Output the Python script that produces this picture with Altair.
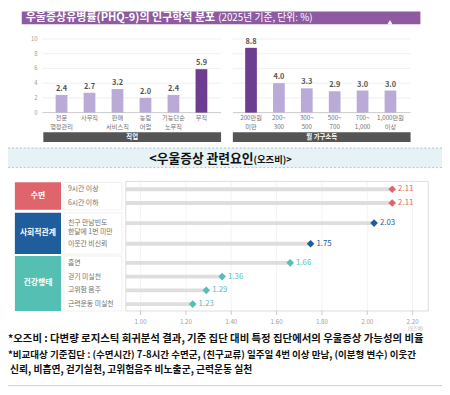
import altair as alt
import pandas as pd

FONT = "Noto Sans CJK KR"

# ---------------- data ----------------
jobs = ["전문\n행정관리", "사무직", "판매\n서비스직", "농림\n어업", "기능단순\n노무직", "무직"]
job_vals = [2.4, 2.7, 3.2, 2.0, 2.4, 5.9]
job_hi = [False, False, False, False, False, True]

incomes = ["200만원\n미만", "200~\n300", "300~\n500", "500~\n700", "700~\n1,000", "1,000만원\n이상"]
inc_vals = [8.8, 4.0, 3.3, 2.9, 3.0, 3.0]
inc_hi = [True, False, False, False, False, False]

y_ticks = [0, 2, 4, 6, 8, 10]

rows = ["9시간 이상", "6시간 이하", "친구 만남빈도\n한달에 1번 미만", "이웃간 비신뢰",
        "흡연", "걷기 미실천", "고위험 음주", "근력운동 미실천"]
odds = [2.11, 2.11, 2.03, 1.75, 1.66, 1.36, 1.29, 1.23]
row_group = ["수면", "수면", "사회적관계", "사회적관계", "건강행태", "건강행태", "건강행태", "건강행태"]
group_names = ["수면", "사회적관계", "건강행태"]
group_colors = ["#e0646c", "#1f5d9c", "#55bfb3"]
x_ticks = [1.0, 1.2, 1.4, 1.6, 1.8, 2.0, 2.2]

title_main = "우울증상유병률(PHQ-9)의 인구학적 분포"
title_sub = "(2025년 기준, 단위: %)"
mid_title_a = "<우울증상 관련요인"
mid_title_b = "(오즈비)>"
notes = [
    "*오즈비 : 다변량 로지스틱 회귀분석 결과, 기준 집단 대비 특정 집단에서의 우울증상 가능성의 비율",
    "*비교대상 기준집단 : (수면시간) 7-8시간 수면군, (친구교류) 일주일 4번 이상 만남, (이분형 변수) 이웃간",
    " 신뢰, 비흡연, 걷기실천, 고위험음주 비노출군, 근력운동 실천",
]

# ---------------- helpers ----------------
one = pd.DataFrame({"k": [0]})
layers = []


def rect(x, x2, y, y2, **kw):
    return alt.Chart(one).mark_rect(**kw).encode(
        x=alt.value(x), x2=alt.value(x2), y=alt.value(y), y2=alt.value(y2))


def hrule(x, x2, y, **kw):
    return alt.Chart(one).mark_rule(**kw).encode(
        x=alt.value(x), x2=alt.value(x2), y=alt.value(y))


def label(t, x, y, **kw):
    kw.setdefault("font", FONT)
    return alt.Chart(pd.DataFrame({"t": [t]})).mark_text(**kw).encode(
        x=alt.value(x), y=alt.value(y), text="t:N")


# ---------------- top section ----------------
layers.append(rect(14, 420, 0, 13, color="#8e5aa0"))
layers.append(alt.Chart(one).mark_point(shape="triangle-up", filled=True, color="white",
                                        opacity=1, size=28).encode(x=alt.value(389), y=alt.value(11)))
layers.append(label(title_main, 211, 7, align="right", baseline="middle", fontSize=11.2,
                    fontWeight="bold", color="white"))
layers.append(label(title_sub, 214, 7, align="left", baseline="middle", fontSize=10,
                    color="white"))

ys_top = alt.Scale(domain=[0, 10], range=[103, 28])
tick_df = pd.DataFrame({"v": y_ticks})
for (x0, x1) in [(35, 217), (229, 410)]:
    layers.append(alt.Chart(tick_df).mark_rule(strokeWidth=0.8).encode(
        y=alt.Y("v:Q", scale=ys_top, axis=None),
        x=alt.value(x0), x2=alt.value(x1),
        color=alt.condition("datum.v == 0", alt.value("#bdbdbd"), alt.value("#ececec"))))
layers.append(alt.Chart(tick_df).mark_text(font=FONT, fontSize=6, color="#a0a0a0",
                                            align="right", baseline="middle").encode(
    y=alt.Y("v:Q", scale=ys_top, axis=None), x=alt.value(30), text="v:Q"))

for cats, vals, hi, rng in [(jobs, job_vals, job_hi, [40.25, 211.25]),
                            (incomes, inc_vals, inc_hi, [233.3, 403.7])]:
    df = pd.DataFrame({"c": cats, "v": vals, "h": hi})
    xs = alt.Scale(domain=cats, range=rng, paddingInner=0.58, paddingOuter=0.29)
    layers.append(alt.Chart(df).mark_bar().encode(
        x=alt.X("c:N", scale=xs, axis=None, sort=None),
        y=alt.Y("v:Q", scale=ys_top, axis=None),
        color=alt.Color("h:N", scale=alt.Scale(domain=[False, True],
                                               range=["#b9aad8", "#6d3d8f"]), legend=None)))
    layers.append(alt.Chart(df).mark_text(font=FONT, fontSize=7.5, fontWeight="bold",
                                          color="#555555", dy=-6).encode(
        x=alt.X("c:N", scale=xs, axis=None, sort=None),
        y=alt.Y("v:Q", scale=ys_top, axis=None),
        text=alt.Text("v:Q", format=".1f")))
    layers.append(alt.Chart(df).mark_text(font=FONT, fontSize=6.3, color="#707070",
                                          lineBreak="\n", lineHeight=8.5,
                                          baseline="top").encode(
        x=alt.X("c:N", scale=xs, axis=None, sort=None),
        y=alt.value(106), text="c:N"))

layers.append(rect(36, 217, 123, 133, color="#555555"))
layers.append(rect(229, 410, 123, 133, color="#555555"))
layers.append(label("직업", 126.5, 128, fontSize=6.5, fontWeight="bold", color="white",
                    baseline="middle"))
layers.append(label("월 가구소득", 319.5, 128, fontSize=6.5, fontWeight="bold", color="white",
                    baseline="middle"))

# ---------------- middle header ----------------
layers.append(rect(0, 442, 139, 159, color="#e6f2f6"))
layers.append(hrule(0, 442, 139, color="#a9b4b8", strokeDash=[2, 2], strokeWidth=0.8))
layers.append(hrule(0, 442, 159, color="#a9b4b8", strokeDash=[2, 2], strokeWidth=0.8))
layers.append(label(mid_title_a, 250, 150, align="right", baseline="middle", fontSize=13,
                    fontWeight="bold", color="#111111"))
layers.append(label(mid_title_b, 250, 151, align="left", baseline="middle", fontSize=9.5,
                    fontWeight="bold", color="#111111"))

# ---------------- odds ratio plot ----------------
xs_or = alt.Scale(domain=[0.935, 2.269], range=[120, 428])
xt = pd.DataFrame({"v": x_ticks})
layers.append(alt.Chart(xt).mark_rule(color="#f0f0f0", strokeWidth=0.8).encode(
    x=alt.X("v:Q", scale=xs_or, axis=None), y=alt.value(173), y2=alt.value(305)))
layers.append(rect(120, 428, 173, 305, fill=None, stroke="#dcdcdc", strokeWidth=1))
layers.append(alt.Chart(xt).mark_rule(color="#bbbbbb", strokeWidth=0.8).encode(
    x=alt.X("v:Q", scale=xs_or, axis=None), y=alt.value(305), y2=alt.value(309)))
layers.append(alt.Chart(xt).mark_text(font=FONT, fontSize=6.3, color="#a0a0a0").encode(
    x=alt.X("v:Q", scale=xs_or, axis=None), y=alt.value(316),
    text=alt.Text("v:Q", format=".2f")))
layers.append(label("(오즈비)", 415, 323, fontSize=4.5, color="#a0a0a0"))

group_ranges = [(174, 202), (205, 247), (249, 305)]
or_df = pd.DataFrame({"r": rows, "v": odds, "g": row_group})
for g, col, (top, bot) in zip(group_names, group_colors, group_ranges):
    sub = or_df[or_df.g == g]
    dom = list(sub.r)
    ys = alt.Scale(type="point", domain=dom, range=[top, bot], padding=0.5)
    base = alt.Chart(sub)
    layers.append(rect(7, 54, top, bot, color=col))
    layers.append(label(g, 30.5, (top + bot) / 2, fontSize=8, fontWeight="bold",
                        color="white", baseline="middle"))
    layers.append(rect(57, 116, top, bot, fill="white", stroke="#ececec", strokeWidth=0.8))
    layers.append(base.mark_text(font=FONT, fontSize=7, color="#707070", align="left",
                                 baseline="middle", lineBreak="\n", lineHeight=9).encode(
        y=alt.Y("r:N", scale=ys, axis=None, sort=None), x=alt.value(61), text="r:N"))
    layers.append(base.mark_rule(color="#dedede", strokeWidth=4).encode(
        y=alt.Y("r:N", scale=ys, axis=None, sort=None),
        x=alt.X("v:Q", scale=xs_or, axis=None), x2=alt.X2(datum=0.935)))
    layers.append(base.mark_point(shape="diamond", filled=True, opacity=1, size=60,
                                  color=col).encode(
        y=alt.Y("r:N", scale=ys, axis=None, sort=None),
        x=alt.X("v:Q", scale=xs_or, axis=None)))
    layers.append(base.mark_text(font=FONT, fontSize=8, color=col, align="left",
                                 baseline="middle", dx=6).encode(
        y=alt.Y("r:N", scale=ys, axis=None, sort=None),
        x=alt.X("v:Q", scale=xs_or, axis=None),
        text=alt.Text("v:Q", format=".2f")))

# ---------------- footnotes ----------------
layers.append(label(notes[0], 0, 334, align="left", baseline="middle", fontSize=10.6,
                    fontWeight="bold", color="#111111"))
layers.append(label(notes[1], 0, 350, align="left", baseline="middle", fontSize=9.7,
                    fontWeight="bold", color="#111111"))
layers.append(label(notes[2], 2, 365, align="left", baseline="middle", fontSize=10,
                    fontWeight="bold", color="#111111"))
layers.append(hrule(0, 442, 381, color="#cfcfcf", strokeWidth=1))

chart = alt.layer(*layers).resolve_scale(
    x="independent", y="independent", color="independent"
).properties(width=442, height=387, padding=0, autosize="none").configure_view(stroke=None)

chart.save("out.html", embed_options={"renderer": "svg", "actions": False})
